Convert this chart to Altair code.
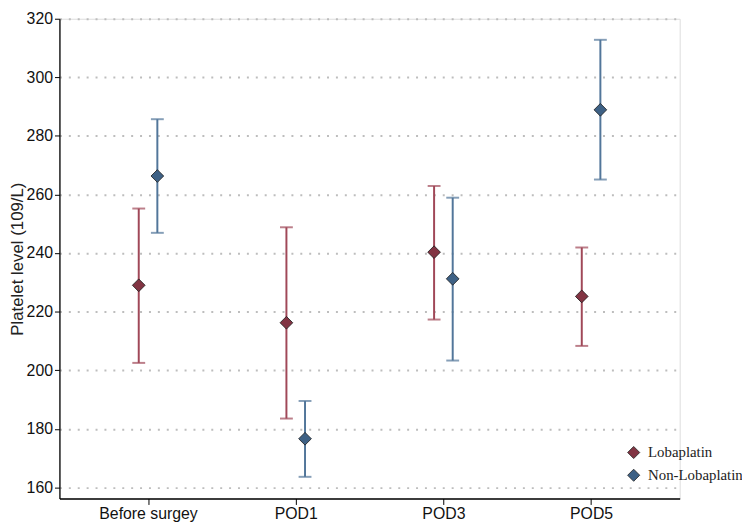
import altair as alt
import pandas as pd

categories = ["Before surgey", "POD1", "POD3", "POD5"]
groups = ["Lobaplatin", "Non-Lobaplatin"]

lob_mean = [229.0, 216.2, 240.3, 225.2]
lob_low = [202.5, 183.5, 217.3, 208.3]
lob_high = [255.2, 248.8, 262.9, 241.9]

non_mean = [266.3, 176.6, 231.2, 288.9]
non_low = [246.9, 163.6, 203.3, 265.1]
non_high = [285.7, 189.5, 258.9, 312.8]

rows = []
for i, c in enumerate(categories):
    rows.append({"cat": c, "group": groups[0], "mean": lob_mean[i], "low": lob_low[i], "high": lob_high[i]})
    rows.append({"cat": c, "group": groups[1], "mean": non_mean[i], "low": non_low[i], "high": non_high[i]})
df = pd.DataFrame(rows)

cat_js = "[" + ",".join("'%s'" % c for c in categories) + "]"

base = alt.Chart(df).transform_calculate(
    xpos="indexof(%s, datum.cat) + 1 + (datum.group == 'Lobaplatin' ? -0.063 : 0.063)" % cat_js
)

label_expr = "%s[datum.value - 1]" % cat_js
ydom = [156.2, 320]
yscale = alt.Scale(domain=ydom, nice=False, zero=False)

x = alt.X(
    "xpos:Q",
    scale=alt.Scale(domain=[0.4, 4.6], nice=False, zero=False),
    axis=alt.Axis(
        values=[1, 2, 3, 4], labelExpr=label_expr, title=None, grid=False,
        tickSize=6, labelPadding=1, labelFontSize=16, labelFont="Liberation Sans",
        labelColor="#111", domainColor="#000", tickColor="#000", domainWidth=1.3,
        tickWidth=1,
    ),
)
y = alt.Y(
    "mean:Q",
    scale=yscale,
    axis=alt.Axis(
        values=[160, 180, 200, 220, 240, 260, 280, 300, 320],
        title="Platelet level (109/L)", titleFont="Liberation Sans", titleFontSize=17,
        titleFontWeight="normal", titleColor="#222", titlePadding=0,
        labelFontSize=16, labelFont="Liberation Sans", labelColor="#111",
        tickSize=5, labelPadding=2, domainColor="#000", tickColor="#000",
        domainWidth=1.3, grid=True, gridColor="#BDBDBD", gridDash=[2, 7], gridWidth=2,
    ),
)

line_color = alt.Color(
    "group:N", scale=alt.Scale(domain=groups, range=["#A04858", "#52769A"]), legend=None
)
fill_color = alt.Color(
    "group:N",
    scale=alt.Scale(domain=groups, range=["#823443", "#3E6185"]),
    legend=alt.Legend(
        title=None, orient="none", legendX=573, legendY=431, symbolType="diamond",
        symbolSize=150, symbolStrokeColor="#222", symbolStrokeWidth=0.8,
        labelFont="Liberation Serif", labelFontSize=15, labelColor="#222",
        rowPadding=6, padding=0, labelOffset=7,
    ),
)

rules = base.mark_rule(strokeWidth=2).encode(
    x=x, y=alt.Y("low:Q", scale=yscale), y2="high:Q", color=line_color,
)
cap_lo = base.mark_tick(orient="horizontal", size=13, thickness=2).encode(
    x=x, y=alt.Y("low:Q", scale=yscale), color=line_color
)
cap_hi = base.mark_tick(orient="horizontal", size=13, thickness=2).encode(
    x=x, y=alt.Y("high:Q", scale=yscale), color=line_color
)
points = base.mark_point(
    shape="diamond", size=165, filled=True, opacity=1, stroke="#1a1a1a", strokeWidth=0.8
).encode(x=x, y=y, fill=fill_color)

chart = alt.layer(rules, cap_lo, cap_hi, points).resolve_scale(color="independent").properties(
    width=627, height=485,
    autosize=alt.AutoSizeParams(type="none"),
    padding={"left": 52, "top": 8, "right": 63, "bottom": 30},
).configure_view(strokeOpacity=0, strokeWidth=0).configure_axisX(grid=False).configure(background="white")

chart.save("out.html", embed_options={"renderer": "svg", "actions": False})
